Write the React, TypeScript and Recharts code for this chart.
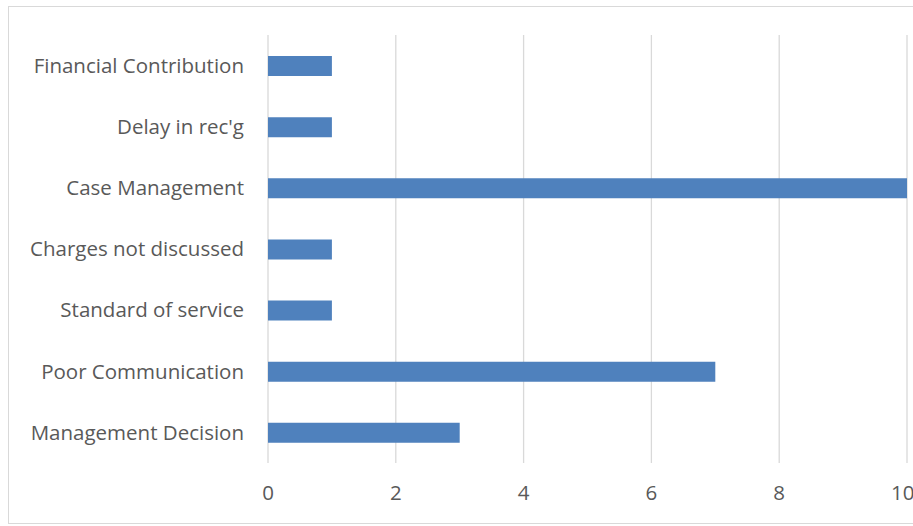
import { BarChart, Bar, CartesianGrid, XAxis, YAxis } from 'recharts'

const categories = [
  'Financial Contribution',
  "Delay in rec'g",
  'Case Management',
  'Charges not discussed',
  'Standard of service',
  'Poor Communication',
  'Management Decision',
]
const counts = [1, 1, 10, 1, 1, 7, 3]
const xTicks = [0, 2, 4, 6, 8, 10]

const data = categories.map((name, i) => ({ name, count: counts[i] }))

const tickStyle = { fill: '#595959', fontSize: 20.5, fontFamily: 'Open Sans, sans-serif' }

export default function App() {
  return (
    <div style={{ position: 'absolute', left: 0, top: 0, width: 913, height: 526, overflow: 'hidden', background: '#fff' }}>
      <div
        style={{
          position: 'absolute', left: 8, top: 6, width: 920, height: 518,
          border: '1px solid #d9d9d9', boxSizing: 'border-box',
        }}
      />
      <div style={{ position: 'absolute', left: 0, top: 0 }}>
        <BarChart
          layout="vertical"
          width={913}
          height={526}
          data={data}
          margin={{ top: 35, right: 6, bottom: 0, left: 0 }}
          barSize={20}
        >
          <CartesianGrid horizontal={false} stroke="#d9d9d9" strokeWidth={1.3} />
          <XAxis
            type="number"
            domain={[0, 10]}
            ticks={xTicks}
            axisLine={false}
            tickLine={false}
            tickSize={0}
            tickMargin={22}
            height={63}
            tick={tickStyle}
          />
          <YAxis
            type="category"
            dataKey="name"
            width={268}
            axisLine={false}
            tickLine={false}
            tickSize={0}
            tickMargin={24}
            tick={tickStyle}
          />
          <Bar dataKey="count" fill="#4f81bd" isAnimationActive={false} />
        </BarChart>
      </div>
    </div>
  )
}
